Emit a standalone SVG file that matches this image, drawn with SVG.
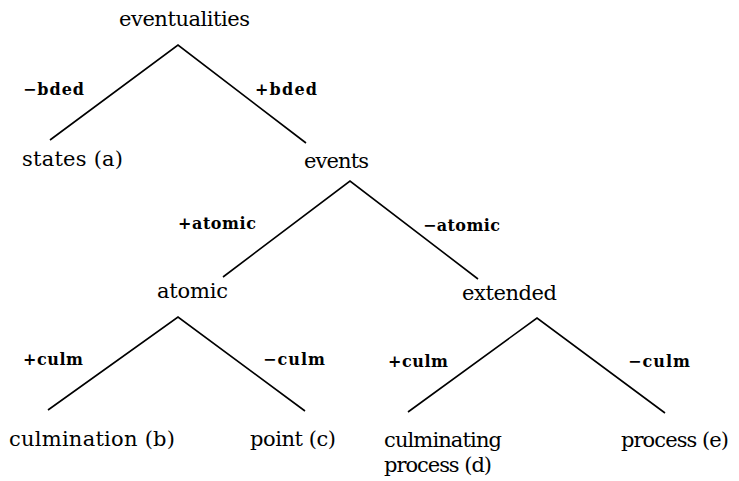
<svg xmlns="http://www.w3.org/2000/svg" width="739" height="481" viewBox="0 0 739 481">
<style>
.n{font-family:'DejaVu Serif',serif;font-size:21px;fill:#000}
.l{font-family:'DejaVu Serif',serif;font-size:16px;font-weight:bold;fill:#000}
.e{stroke:#000;stroke-width:1.6;fill:none}
</style>
<rect width="739" height="481" fill="#fff"/>
<g id="connectors">
<path class="e" d="M50,140 L178,45 L306,143"/>
<path class="e" d="M223,277 L350,181 L478,279"/>
<path class="e" d="M48,410 L178,317 L305,411"/>
<path class="e" d="M408,412 L537,318 L665,413"/>
<text class="l" x="23" y="95" textLength="61">−bded</text>
<text class="l" x="255" y="95" textLength="62">+bded</text>
<text class="l" x="178" y="229" textLength="78">+atomic</text>
<text class="l" x="423" y="231" textLength="77">−atomic</text>
<text class="l" x="23" y="365" textLength="60">+culm</text>
<text class="l" x="263" y="365" textLength="62">−culm</text>
<text class="l" x="388" y="367" textLength="60">+culm</text>
<text class="l" x="628" y="367" textLength="62">−culm</text>
</g>
<g id="eventualities"><text class="n" x="119" y="26" textLength="131">eventualities</text></g>
<g id="states"><text class="n" x="22" y="166" textLength="101">states (a)</text></g>
<g id="events"><text class="n" x="304" y="168" textLength="65">events</text></g>
<g id="atomic"><text class="n" x="157" y="298" textLength="71">atomic</text></g>
<g id="extended"><text class="n" x="462" y="300" textLength="95">extended</text></g>
<g id="culmination"><text class="n" x="9" y="446" textLength="166">culmination (b)</text></g>
<g id="point"><text class="n" x="250" y="446" textLength="86">point (c)</text></g>
<g id="culminating-process"><text class="n" x="384" y="447" textLength="118">culminating</text><text class="n" x="384" y="472" textLength="108">process (d)</text></g>
<g id="process"><text class="n" x="621" y="447" textLength="108">process (e)</text></g>
</svg>
